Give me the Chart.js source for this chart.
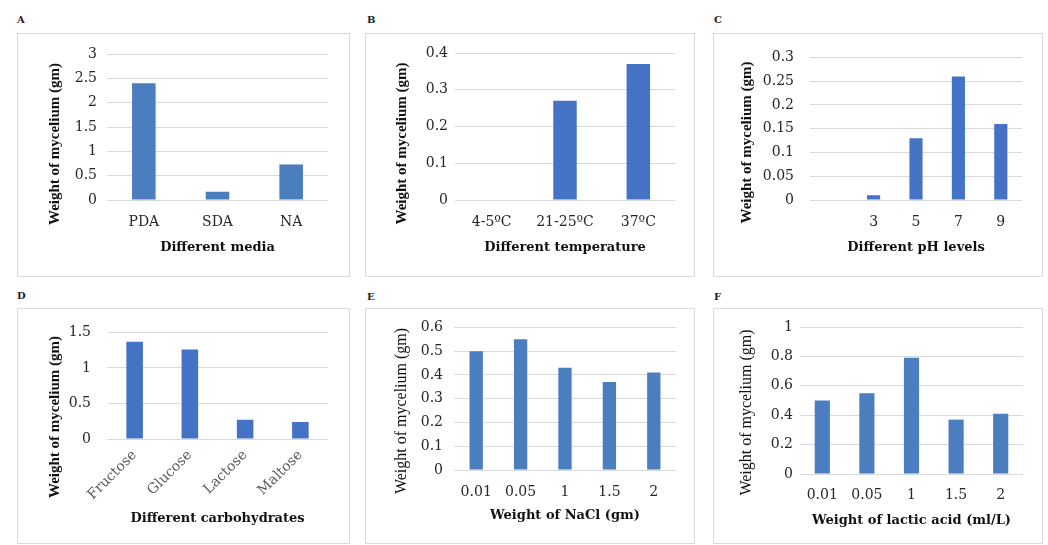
<!DOCTYPE html>
<html><head><meta charset="utf-8">
<script src="https://cdn.jsdelivr.net/npm/chart.js@4.4.1/dist/chart.umd.min.js"></script>
<style>
html,body{margin:0;padding:0;background:#fff;width:1048px;height:545px;overflow:hidden}
.box{position:absolute;border:1px solid #d9d9d9;box-sizing:border-box}
.box canvas{position:absolute;left:-1px;top:-1px}
.lbl{position:absolute;font:bold 10px "DejaVu Serif";color:#222;line-height:10px}
</style></head><body>
<div class="lbl" style="left:17px;top:15px">A</div>
<div class="lbl" style="left:367px;top:15px">B</div>
<div class="lbl" style="left:714px;top:15px">C</div>
<div class="lbl" style="left:17px;top:291px">D</div>
<div class="lbl" style="left:367px;top:292px">E</div>
<div class="lbl" style="left:714px;top:292px">F</div>

<div class="box" style="left:17px;top:33px;width:333px;height:244px"><canvas id="cA" width="333" height="244"></canvas></div>
<div class="box" style="left:365px;top:33px;width:330px;height:244px"><canvas id="cB" width="330" height="244"></canvas></div>
<div class="box" style="left:713px;top:33px;width:330px;height:244px"><canvas id="cC" width="330" height="244"></canvas></div>
<div class="box" style="left:17px;top:308px;width:333px;height:236px"><canvas id="cD" width="333" height="236"></canvas></div>
<div class="box" style="left:365px;top:308px;width:330px;height:236px"><canvas id="cE" width="330" height="236"></canvas></div>
<div class="box" style="left:713px;top:308px;width:330px;height:236px"><canvas id="cF" width="330" height="236"></canvas></div>

<script>
// ---- data ----
const mediaCats = ['PDA', 'SDA', 'NA'];
const mediaVals = [2.4, 0.17, 0.73];
const tempCats = ['4-5ºC', '21-25ºC', '37ºC'];
const tempVals = [0, 0.27, 0.37];
const phCats = ['', '3', '5', '7', '9'];
const phVals = [null, 0.01, 0.13, 0.26, 0.16];
const carbCats = ['Fructose', 'Glucose', 'Lactose', 'Maltose'];
const carbVals = [1.37, 1.26, 0.27, 0.24];
const naclCats = ['0.01', '0.05', '1', '1.5', '2'];
const naclVals = [0.5, 0.55, 0.43, 0.37, 0.41];
const lacticCats = ['0.01', '0.05', '1', '1.5', '2'];
const lacticVals = [0.5, 0.55, 0.79, 0.37, 0.41];

const yTitleText = 'Weight of mycelium (gm)';

// ---- drawing ----
const yTitlePlugin = {
  id: 'yTitle',
  afterDraw(chart, args, o) {
    const ctx = chart.ctx;
    ctx.save();
    ctx.translate(o.x, o.y);
    ctx.rotate(-Math.PI / 2);
    ctx.font = o.font;
    ctx.fillStyle = o.color;
    ctx.textAlign = 'center';
    ctx.textBaseline = 'middle';
    ctx.fillText(o.text, 0, 0);
    ctx.restore();
  }
};

const tickFont = {family: 'DejaVu Serif', size: 14};
const xTitleFont = {family: 'DejaVu Serif', size: 13, weight: 'bold'};
const fmt = v => String(Number(Number(v).toFixed(3)));

function make(id, p) {
  new Chart(document.getElementById(id), {
    type: 'bar',
    data: {
      labels: p.cats,
      datasets: [{data: p.vals, backgroundColor: p.color, borderWidth: 0,
        barPercentage: p.bp, categoryPercentage: 1}]
    },
    options: {
      responsive: false, animation: false, devicePixelRatio: 1,
      layout: {padding: {left: 0, top: p.top, right: p.right, bottom: 0}},
      plugins: {
        legend: {display: false}, tooltip: {enabled: false},
        yTitle: {text: yTitleText, x: p.ytx, y: p.yty, font: p.ytFont, color: '#111'}
      },
      scales: {
        x: {
          grid: {display: false, drawTicks: false}, border: {display: false},
          ticks: {font: tickFont, color: p.xTickColor || '#262626', padding: p.xPad,
            maxRotation: p.rot || 0, minRotation: p.rot || 0, autoSkip: false},
          title: {display: true, text: p.xTitle, font: xTitleFont, color: '#111',
            padding: {top: 0, bottom: p.xtPad}},
          afterFit(s) { s.height = p.xH; }
        },
        y: {
          min: 0, max: p.max,
          grid: {color: '#d9d9d9', drawTicks: false, lineWidth: 1},
          border: {display: false},
          ticks: {stepSize: p.step, font: tickFont, color: '#262626', padding: p.yPad, callback: fmt},
          afterFit(s) { s.width = p.yW; }
        }
      }
    },
    plugins: [yTitlePlugin]
  });
}

const boldY = 'bold 15px "Liberation Serif"';
const normY = '16px "Liberation Serif"';

make('cA', {cats: mediaCats, vals: mediaVals, color: '#4a7ebf', bp: 0.32, top: 21, right: 22,
  xH: 77, yW: 90, xPad: 14, xtPad: 22, yPad: 10, max: 3, step: 0.5,
  xTitle: 'Different media', ytx: 38, yty: 111, ytFont: boldY});
make('cB', {cats: tempCats, vals: tempVals, color: '#4472c4', bp: 0.32, top: 20, right: 20,
  xH: 77, yW: 90, xPad: 14, xtPad: 22, yPad: 7, max: 0.4, step: 0.1,
  xTitle: 'Different temperature', ytx: 37, yty: 110.5, ytFont: boldY});
make('cC', {cats: phCats, vals: phVals, color: '#4472c4', bp: 0.31, top: 20, right: 21,
  xH: 77, yW: 97, xPad: 14, xtPad: 22, yPad: 16, max: 0.3, step: 0.05,
  xTitle: 'Different pH levels', ytx: 34, yty: 109.5, ytFont: boldY});
make('cD', {cats: carbCats, vals: carbVals, color: '#4472c4', bp: 0.3, top: 18, right: 22,
  xH: 105, yW: 90, xPad: 8, xtPad: 18, yPad: 16, max: 1.5, step: 0.5, rot: 45, xTickColor: '#595959',
  xTitle: 'Different carbohydrates', ytx: 38, yty: 109, ytFont: boldY});
make('cE', {cats: naclCats, vals: naclVals, color: '#4a7ebf', bp: 0.3, top: 19, right: 19,
  xH: 74, yW: 89, xPad: 14, xtPad: 21, yPad: 11, max: 0.6, step: 0.1,
  xTitle: 'Weight of NaCl (gm)', ytx: 37, yty: 103, ytFont: normY});
make('cF', {cats: lacticCats, vals: lacticVals, color: '#4a7ebf', bp: 0.34, top: 19, right: 20,
  xH: 70, yW: 87, xPad: 13, xtPad: 16, yPad: 7, max: 1, step: 0.2,
  xTitle: 'Weight of lactic acid (ml/L)', ytx: 34, yty: 104.5, ytFont: normY});
</script>
</body></html>
